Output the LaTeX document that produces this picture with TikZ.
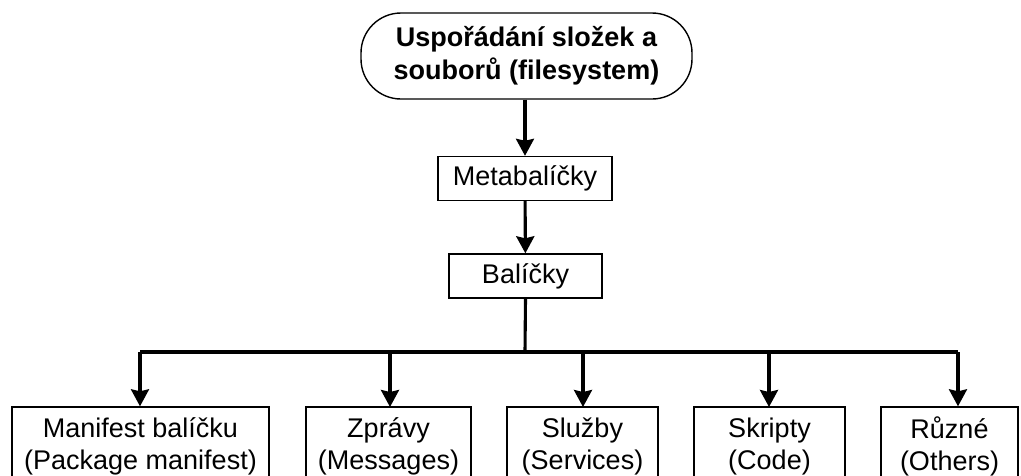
\documentclass[tikz,border=0pt]{standalone}
\usepackage{fontspec}
\setmainfont{Liberation Sans}
\usetikzlibrary{arrows.meta}
\begin{document}
\begin{tikzpicture}[x=1pt,y=-1pt,
  boxstyle/.style={draw, line width=1.4pt, inner sep=0pt, align=center,
    font=\fontsize{27}{32}\selectfont},
  conn/.style={line width=3.1pt, -{Stealth[length=17pt,width=18pt,inset=2pt]}},
  bus/.style={line width=3.1pt}]
\useasboundingbox (0,0) rectangle (1021,475);
\clip (0,0) rectangle (1021,475);
\fill[white] (0,0) rectangle (1021,475);
\node[boxstyle, rounded corners=40pt, minimum width=331pt, minimum height=86pt,
  font=\fontsize{27}{33}\selectfont\bfseries] (root) at (526.5,56)
  {Uspořádání složek a\\souborů (filesystem)};
\node[boxstyle, minimum width=174pt, minimum height=44pt] (meta) at (525,178.5) {Metabalíčky};
\node[boxstyle, minimum width=153pt, minimum height=44pt] (bal) at (525.5,276) {Balíčky};
\node[boxstyle, minimum width=257pt, minimum height=79pt] (b1) at (140.5,446.5) {Manifest balíčku\\(Package manifest)};
\node[boxstyle, minimum width=165pt, minimum height=79pt] (b2) at (388.5,446.5) {Zprávy\\(Messages)};
\node[boxstyle, minimum width=151pt, minimum height=79pt] (b3) at (582.5,446.5) {Služby\\(Services)};
\node[boxstyle, minimum width=151pt, minimum height=79pt] (b4) at (769.5,446.5) {Skripty\\(Code)};
\node[boxstyle, minimum width=137pt, minimum height=79pt] (b5) at (949.5,446.5) {Různé\\(Others)};
\coordinate (hub) at (525,352);
\coordinate (busL) at (140,352);
\coordinate (busR) at (958,352);
\draw[conn] (root.south -| meta) -- (meta.north);
\draw[conn] (meta) -- (bal);
\draw[bus] (bal.south) -- (hub);
\draw[bus] (busL) -- (busR);
\draw[conn] (busL) -- (busL |- b1.north);
\draw[conn] (390,352) -- (390,407);
\draw[conn] (583,352) -- (583,407);
\draw[conn] (769,352) -- (769,407);
\draw[conn] (busR) -- (busR |- b5.north);
\end{tikzpicture}
\end{document}
